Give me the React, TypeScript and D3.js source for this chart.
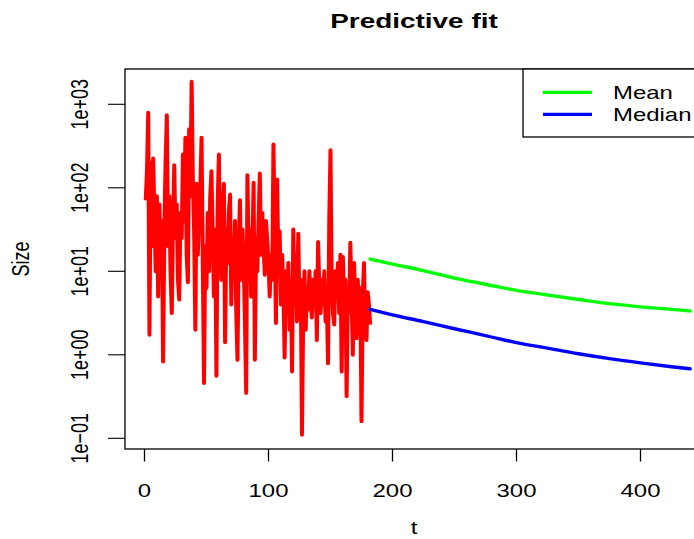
import React from "react";
import * as d3 from "d3";

// Observed series (t = 1..182)
const observed: number[] = [
  71, 158, 794, 1.74, 200, 20, 224, 50, 10, 79,
  5.0, 63, 15.8, 40, 0.83, 31.6, 200, 741, 20, 79,
  10, 3.16, 40, 186, 25, 63, 7.9, 4.6, 50, 25,
  251, 40, 398, 15.8, 7.4, 501, 79, 1862, 126, 31.6,
  2.0, 112, 15.8, 50, 100, 398, 12.6, 0.46, 20, 6.3,
  50, 10, 79, 158, 25, 5.0, 31.6, 0.56, 63, 251,
  20, 7.9, 40, 112, 1.41, 31.6, 12.6, 50, 83, 4.0,
  25, 10, 40, 3.16, 0.87, 20, 71, 7.9, 31.6, 12.6,
  2.5, 0.35, 141, 15.8, 31.6, 5.0, 20, 115, 0.87, 25,
  10, 40, 148, 15.8, 50, 20, 9.1, 40, 23.4, 12.6,
  5.0, 15.8, 7.9, 331, 31.6, 2.4, 126, 10, 30.2, 4.0,
  15.8, 6.3, 0.93, 10, 3.16, 12.6, 2.0, 7.9, 0.63, 31.6,
  5.0, 15.8, 2.5, 28.2, 4.0, 7.9, 0.11, 3.16, 10, 2.0,
  6.3, 3.5, 10, 4.0, 2.8, 7.9, 4.0, 10, 1.5, 22.4,
  6.3, 3.16, 7.9, 4.0, 10, 2.5, 5.0, 0.79, 40, 282,
  6.3, 3.16, 2.3, 10, 5.0, 12.6, 3.16, 15.8, 0.63, 14.8,
  4.0, 7.9, 0.32, 6.3, 3.16, 21.9, 5.0, 1.0, 12.6, 4.0,
  1.58, 7.9, 3.16, 6.3, 0.16, 5.0, 12.6, 2.0, 1.5, 5.6,
  4.0, 2.3,
];

// Predictive curves
const predT: number[] = [182, 200, 225, 250, 275, 300, 325, 350, 375, 400, 425, 440];
const predMean: number[] = [14, 12.2, 10.2, 8.3, 7.0, 5.9, 5.2, 4.6, 4.1, 3.75, 3.5, 3.35];
const predMedian: number[] = [3.5, 3.0, 2.5, 2.05, 1.7, 1.4, 1.2, 1.03, 0.9, 0.8, 0.72, 0.68];

const xTicks: number[] = [0, 100, 200, 300, 400];
const yTicks: number[] = [0.1, 1, 10, 100, 1000];
const yTickLabels: string[] = ["1e\u221201", "1e+00", "1e+01", "1e+02", "1e+03"];
const legendLabels: string[] = ["Mean", "Median"];
const legendColors: string[] = ["#00ff00", "#0000ff"];

const W = 694;
const H = 539;
const SX = 1.33;
const FONT = "'Liberation Sans', Arial, Helvetica, sans-serif";

export default function App() {
  const boxL = 125, boxT = 69, boxB = 449, boxR = 720;
  const x = d3.scaleLinear().domain([0, 400]).range([144.5, 640.5]);
  const y = d3.scaleLog().domain([0.1, 1000]).range([438.3, 104.3]);

  const line = d3
    .line<[number, number]>()
    .x((d) => x(d[0]))
    .y((d) => y(d[1]));
  const smooth = d3
    .line<[number, number]>()
    .x((d) => x(d[0]))
    .y((d) => y(d[1]))
    .curve(d3.curveMonotoneX);

  const obsPts: [number, number][] = observed.map((v, i) => [i + 1, v]);
  const meanPts: [number, number][] = predT.map((t, i) => [t, predMean[i]]);
  const medPts: [number, number][] = predT.map((t, i) => [t, predMedian[i]]);

  const txt = (tx: number, ty: number, extra = "") =>
    `translate(${tx},${ty}) scale(${SX},1)${extra}`;

  return (
    <svg
      width={W}
      height={H}
      style={{ position: "absolute", left: 0, top: 0, background: "#fff" }}
      fontFamily={FONT}
    >
      <rect x={0} y={0} width={W} height={H} fill="#fff" />
      <defs>
        <clipPath id="plotclip">
          <rect x={boxL} y={boxT} width={boxR - boxL} height={boxB - boxT} />
        </clipPath>
      </defs>

      {/* title */}
      <text transform={txt(414, 28)} textAnchor="middle" fontSize={21} fontWeight="bold" fill="#000">
        Predictive fit
      </text>

      {/* data */}
      <g clipPath="url(#plotclip)">
        <path d={line(obsPts) || ""} fill="none" stroke="#ff0000" strokeWidth={4} strokeLinejoin="round" />
        <path d={smooth(meanPts) || ""} fill="none" stroke="#00ff00" strokeWidth={3.4} strokeLinecap="round" />
        <path d={smooth(medPts) || ""} fill="none" stroke="#0000ff" strokeWidth={3.4} strokeLinecap="round" />
      </g>

      {/* box */}
      <rect x={boxL} y={boxT} width={boxR - boxL} height={boxB - boxT} fill="none" stroke="#000" strokeWidth={1.3} />

      {/* x axis */}
      {xTicks.map((t) => (
        <g key={"xt" + t}>
          <line x1={x(t)} x2={x(t)} y1={boxB} y2={boxB + 12.5} stroke="#000" strokeWidth={1.3} />
          <text transform={txt(x(t), 497)} textAnchor="middle" fontSize={18} fill="#000">
            {String(t)}
          </text>
        </g>
      ))}
      <text transform={txt(414, 534)} textAnchor="middle" fontSize={18} fill="#000">
        t
      </text>

      {/* y axis */}
      {yTicks.map((v, i) => (
        <g key={"yt" + i}>
          <line x1={boxL - 17} x2={boxL} y1={y(v)} y2={y(v)} stroke="#000" strokeWidth={1.1} />
          <text transform={txt(88, y(v), " rotate(-90)")} textAnchor="middle" fontSize={18} fill="#000">
            {yTickLabels[i]}
          </text>
        </g>
      ))}
      <text transform={txt(29, 259, " rotate(-90)")} textAnchor="middle" fontSize={18} fill="#000">
        Size
      </text>

      {/* legend */}
      <rect x={523} y={boxT} width={260} height={68} fill="#fff" stroke="#000" strokeWidth={1.3} />
      {legendLabels.map((lab, i) => (
        <g key={lab}>
          <line x1={543} x2={592} y1={92.3 + i * 22} y2={92.3 + i * 22} stroke={legendColors[i]} strokeWidth={3.2} />
          <text transform={txt(613, 98.8 + i * 22)} fontSize={18} fill="#000">
            {lab}
          </text>
        </g>
      ))}
    </svg>
  );
}
